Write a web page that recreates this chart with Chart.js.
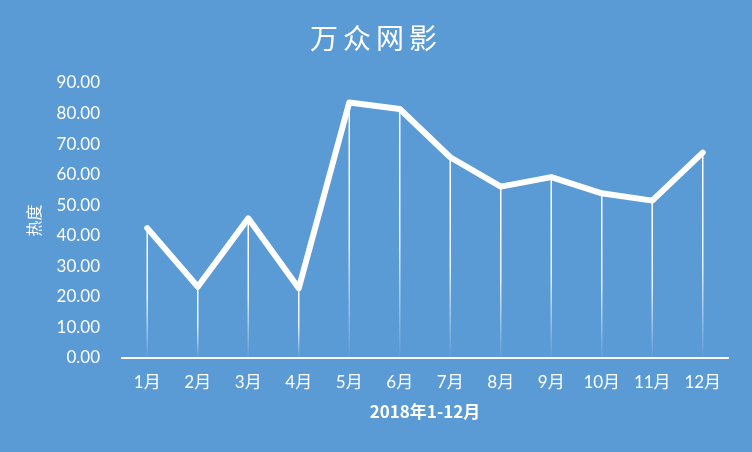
<!DOCTYPE html>
<html>
<head>
<meta charset="utf-8">
<script src="https://cdn.jsdelivr.net/npm/chart.js@4"></script>
<style>
  html, body { margin: 0; padding: 0; background: #5B9BD5; }
  canvas { display: block; }
</style>
</head>
<body>
<canvas id="chart" width="752" height="452"></canvas>
<script>
const months = ['1月', '2月', '3月', '4月', '5月', '6月', '7月', '8月', '9月', '10月', '11月', '12月'];
const heat = [42.5, 23.3, 45.7, 22.8, 83.6, 81.5, 65.7, 56.1, 59.2, 53.9, 51.5, 67.2];
const yTicks = [0, 10, 20, 30, 40, 50, 60, 70, 80, 90];
const chartTitle = '万众网影';

const latin = "Lato, 'Noto Sans CJK SC', sans-serif";
const cjk = "'Noto Sans CJK SC', sans-serif";

// background, spaced-out title, and drop lines from each point to the axis
const decor = {
    id: 'decor',
    beforeDraw(chart) {
        const c = chart.ctx;
        c.save();
        c.fillStyle = '#5B9BD5';
        c.fillRect(0, 0, chart.width, chart.height);
        c.fillStyle = '#FFFFFF';
        c.font = "28px " + cjk;
        c.textAlign = 'center';
        c.textBaseline = 'middle';
        c.letterSpacing = '5px';
        c.fillText(chartTitle, chart.width / 2, 38);
        c.restore();
    },
    beforeDatasetsDraw(chart) {
        const c = chart.ctx;
        const bottom = chart.scales.y.getPixelForValue(0);
        chart.getDatasetMeta(0).data.forEach(pt => {
            let g = c.createLinearGradient(0, pt.y, 0, bottom);
            g.addColorStop(0, 'rgba(255,255,255,1)');
            g.addColorStop(0.55, 'rgba(255,255,255,0.85)');
            g.addColorStop(1, 'rgba(255,255,255,0)');
            c.save();
            c.strokeStyle = g;
            c.lineWidth = 1.5;
            c.beginPath();
            c.moveTo(pt.x, pt.y);
            c.lineTo(pt.x, bottom);
            c.stroke();
            c.restore();
        });
    }
};

new Chart(document.getElementById('chart'), {
    type: 'line',
    data: {
        labels: months,
        datasets: [{
            label: '热度',
            data: heat,
            borderColor: '#FFFFFF',
            borderWidth: 6,
            borderJoinStyle: 'round',
            borderCapStyle: 'round',
            pointRadius: 0,
            tension: 0
        }]
    },
    options: {
        responsive: false,
        animation: false,
        layout: { padding: { left: 22, right: 24, top: 83, bottom: 30 } },
        plugins: {
            legend: { display: false },
            tooltip: { enabled: false },
            title: { display: false }
        },
        scales: {
            x: {
                offset: true,
                afterFit(scale) {
                    scale.height = 64;
                },
                grid: { display: false, drawTicks: false },
                border: { display: true, color: '#FFFFFF', width: 2 },
                ticks: {
                    color: '#FFFFFF',
                    font: { family: latin, size: 17 },
                    padding: 14,
                    maxRotation: 0,
                    autoSkip: false
                },
                title: {
                    display: true,
                    text: '2018年1-12月',
                    color: '#FFFFFF',
                    font: { family: cjk, size: 17, weight: 'bold' },
                    padding: { top: 0, bottom: 0 }
                }
            },
            y: {
                min: 0,
                max: 90,
                afterBuildTicks(scale) {
                    scale.ticks = yTicks.map(v => ({ value: v }));
                },
                afterFit(scale) {
                    scale.width = 100;
                },
                grid: { display: false, drawTicks: false },
                border: { display: false },
                ticks: {
                    color: '#FFFFFF',
                    font: { family: latin, size: 17 },
                    padding: 22,
                    callback: v => Number(v).toFixed(2)
                },
                title: {
                    display: true,
                    text: '热度',
                    color: '#FFFFFF',
                    font: { family: cjk, size: 16 },
                    padding: { top: 2, bottom: 0 }
                }
            }
        }
    },
    plugins: [decor]
});
</script>
</body>
</html>
